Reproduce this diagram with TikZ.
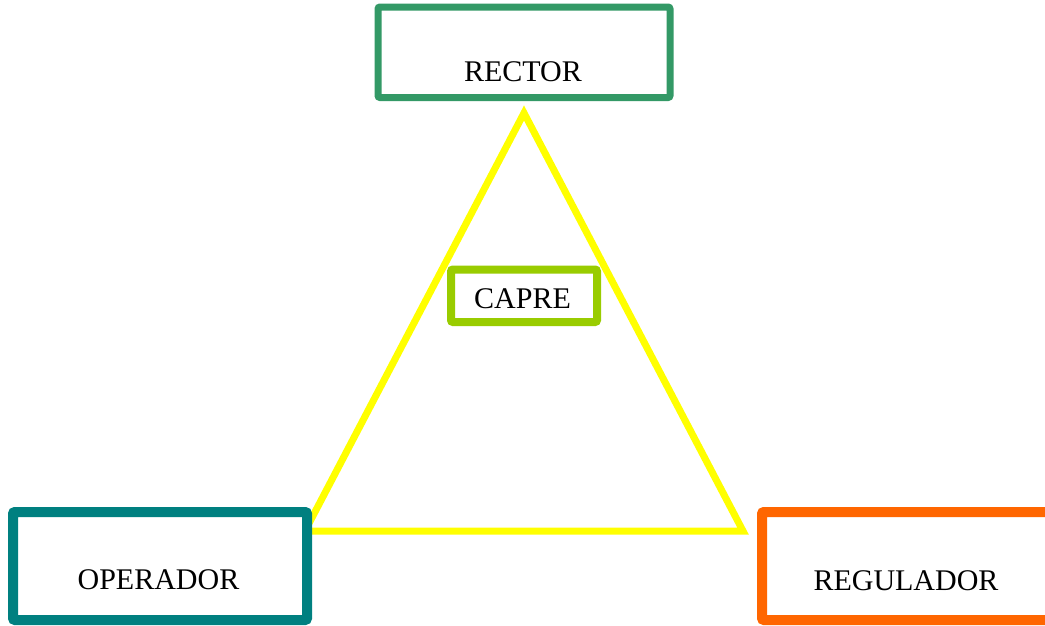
\documentclass[tikz,border=0pt]{standalone}
\usepackage{fontspec}
\setmainfont{Liberation Serif}
\definecolor{rectorgreen}{HTML}{339966}
\definecolor{opteal}{HTML}{008080}
\definecolor{regorange}{HTML}{FF6600}
\definecolor{caprelime}{HTML}{99CC00}
\definecolor{triyellow}{HTML}{FFFF00}
\begin{document}
\begin{tikzpicture}[x=1pt,y=-1pt,
  box/.style={rectangle, fill=white, inner sep=0pt, rounded corners=2pt},
  lbl/.style={anchor=base, inner sep=0pt, font=\fontsize{30}{36}\selectfont, text=black},
  tri/.style={draw=triyellow, line width=7pt, line join=miter}]
\useasboundingbox (0,0) rectangle (1045,625);
\clip (0,0) rectangle (1045,625);
\fill[white] (0,0) rectangle (1045,625);
% triangle
\coordinate (apex) at (524,113);
\coordinate (bl) at (305,531);
\coordinate (br) at (743,531);
\draw[tri] (apex) -- (bl) -- (br) -- cycle;
% boxes
\node[box, draw=rectorgreen, line width=7pt, minimum width=292pt, minimum height=90.5pt] (rector) at (524,52.25) {};
\node[box, draw=caprelime, line width=8pt, minimum width=146pt, minimum height=52.5pt] (capre) at (524,295.75) {};
\node[box, draw=opteal, line width=10pt, minimum width=294pt, minimum height=108pt] (operador) at (160,566) {};
\node[box, draw=regorange, line width=10pt, minimum width=300pt, minimum height=108pt] (regulador) at (912,566) {};
% labels
\node[lbl] (trector) at (523,81) {RECTOR};
\node[lbl] (tcapre) at (522.5,308) {CAPRE};
\node[lbl] (toperador) at (158.5,589) {OPERADOR};
\node[lbl] (tregulador) at (906,590) {REGULADOR};
\end{tikzpicture}
\end{document}
